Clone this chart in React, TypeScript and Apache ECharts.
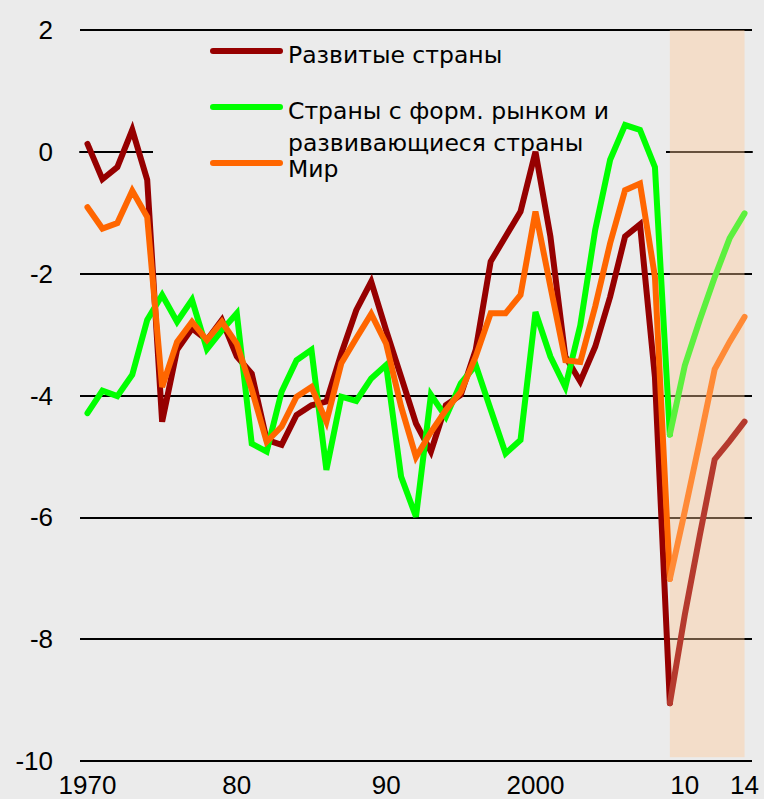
import React, { useEffect, useRef } from 'react';
import * as echarts from 'echarts';

const years: number[] = [];
for (let y = 1970; y <= 2014; y++) years.push(y);

// Развитые страны
const advanced = [
  0.13, -0.45, -0.25, 0.36, -0.46, -4.43, -3.25, -2.9, -3.09, -2.76,
  -3.36, -3.64, -4.73, -4.81, -4.32, -4.16, -4.1, -3.31, -2.6, -2.13,
  -2.93, -3.69, -4.46, -4.92, -4.16, -3.99, -3.25, -1.8, -1.39, -0.98,
  0.0, -1.39, -3.36, -3.77, -3.2, -2.38, -1.39, -1.19, -3.7, -9.05,
  -7.6, -6.3, -5.05, -4.75, -4.43,
];
// Страны с формирующимся рынком и развивающиеся страны
const emerging = [
  -4.29, -3.92, -4.01, -3.66, -2.76, -2.35, -2.79, -2.43, -3.24, -2.93,
  -2.65, -4.79, -4.92, -3.94, -3.42, -3.25, -5.22, -4.02, -4.09, -3.72,
  -3.5, -5.33, -5.99, -3.99, -4.35, -3.8, -3.5, -4.23, -4.95, -4.73,
  -2.63, -3.36, -3.86, -2.85, -1.28, -0.13, 0.44, 0.36, -0.25, -4.64,
  -3.51, -2.76, -2.06, -1.42, -1.01,
];
// Мир
const world = [
  -0.91, -1.26, -1.17, -0.64, -1.07, -3.86, -3.12, -2.79, -3.09, -2.79,
  -3.15, -3.9, -4.76, -4.51, -4.02, -3.86, -4.43, -3.47, -3.06, -2.66,
  -3.15, -4.18, -5.01, -4.6, -4.24, -3.94, -3.36, -2.65, -2.65, -2.35,
  -0.98, -2.21, -3.42, -3.45, -2.54, -1.5, -0.63, -0.52, -2.05, -7.01,
  -5.9, -4.75, -3.57, -3.12, -2.71,
];

const forecastStartYear = 2009;
const lastYear = 2014;
const tickYears = [1970, 1980, 1990, 2000, 2010];
const labelYears = [1970, 1980, 1990, 2000, 2010, 2014];
const labelTexts = ['1970', '80', '90', '2000', '10', '14'];

const legendNames = ['Развитые страны', 'Страны с форм. рынком и', 'развивающиеся страны', 'Мир'];

const BG = '#ebebeb';
const FONT = '"Liberation Sans", Arial, sans-serif';
const LEGEND_FONT = '"DejaVu Sans", sans-serif';

const colors = {
  adv: '#960000',
  advF: '#b53a2e',
  em: '#00ff00',
  emF: '#5cf03e',
  world: '#ff6600',
  worldF: '#ff8a36',
};

export default function App() {
  const ref = useRef<HTMLDivElement>(null);

  useEffect(() => {
    document.body.style.margin = '0';
    if (!ref.current) return;
    const chart = echarts.init(ref.current, undefined, { renderer: 'svg' });
    const fIdx = years.indexOf(forecastStartYear);
    const hist = (arr: number[]) => arr.map((v, i) => (i <= fIdx ? v : null));
    const fore = (arr: number[]) => arr.map((v, i) => (i >= fIdx ? v : null));
    const lineSeries = (data: (number | null)[], color: string, z: number) => ({
      type: 'line',
      data,
      symbol: 'none',
      z,
      lineStyle: { color, width: 6, cap: 'round', join: 'miter' },
      connectNulls: false,
      silent: true,
    });

    const option: any = {
      animation: false,
      backgroundColor: BG,
      grid: { left: 80, right: 12, top: 30, bottom: 38 },
      xAxis: {
        type: 'category',
        data: years.map(String),
        boundaryGap: true,
        axisLine: { lineStyle: { color: '#000', width: 2 } },
        axisTick: {
          inside: true,
          length: 9,
          lineStyle: { color: '#000', width: 2 },
          interval: (i: number) => tickYears.includes(years[i]),
        },
        axisLabel: {
          interval: (i: number) => labelYears.includes(years[i]),
          formatter: (v: string) => labelTexts[labelYears.indexOf(Number(v))],
          fontSize: 26,
          color: '#000',
          fontFamily: FONT,
          margin: 11,
        },
        splitLine: { show: false },
      },
      yAxis: {
        type: 'value',
        min: -10,
        max: 2,
        interval: 2,
        axisLine: { show: false },
        axisTick: { show: false },
        axisLabel: { fontSize: 26, color: '#000', fontFamily: FONT, margin: 27 },
        splitLine: { lineStyle: { color: '#000', width: 2 } },
      },
      graphic: [
        {
          type: 'rect',
          z: 1,
          silent: true,
          shape: { x: 153, y: 36, width: 513, height: 150 },
          style: { fill: BG },
        },
        { type: 'line', z: 10, shape: { x1: 213, y1: 51, x2: 280, y2: 51 }, style: { stroke: colors.adv, lineWidth: 6, lineCap: 'round' } },
        { type: 'line', z: 10, shape: { x1: 213, y1: 107, x2: 280, y2: 107 }, style: { stroke: colors.em, lineWidth: 6, lineCap: 'round' } },
        { type: 'line', z: 10, shape: { x1: 213, y1: 163, x2: 280, y2: 163 }, style: { stroke: colors.world, lineWidth: 6, lineCap: 'round' } },
        { type: 'text', z: 10, x: 288, y: 55, style: { text: legendNames[0], font: `23.5px ${LEGEND_FONT}`, fill: '#000', verticalAlign: 'middle' } },
        { type: 'text', z: 10, x: 288, y: 111, style: { text: legendNames[1], font: `23.5px ${LEGEND_FONT}`, fill: '#000', verticalAlign: 'middle' } },
        { type: 'text', z: 10, x: 288, y: 143, style: { text: legendNames[2], font: `23.5px ${LEGEND_FONT}`, fill: '#000', verticalAlign: 'middle' } },
        { type: 'text', z: 10, x: 288, y: 169, style: { text: legendNames[3], font: `23.5px ${LEGEND_FONT}`, fill: '#000', verticalAlign: 'middle' } },
      ],
      series: [
        {
          type: 'line',
          data: [],
          z: 2,
          clip: false,
          silent: true,
          markArea: {
            silent: true,
            itemStyle: { color: 'rgba(255, 200, 150, 0.4)' },
            data: [[
              { xAxis: String(forecastStartYear), yAxis: 2 },
              { xAxis: String(lastYear), yAxis: -9.94 },
            ]],
          },
        },
        lineSeries(hist(advanced), colors.adv, 3),
        lineSeries(fore(advanced), colors.advF, 3),
        lineSeries(hist(emerging), colors.em, 4),
        lineSeries(fore(emerging), colors.emF, 4),
        lineSeries(hist(world), colors.world, 5),
        lineSeries(fore(world), colors.worldF, 5),
      ],
    };
    chart.setOption(option);
    return () => chart.dispose();
  }, []);

  return <div ref={ref} style={{ width: 764, height: 799 }} />;
}
